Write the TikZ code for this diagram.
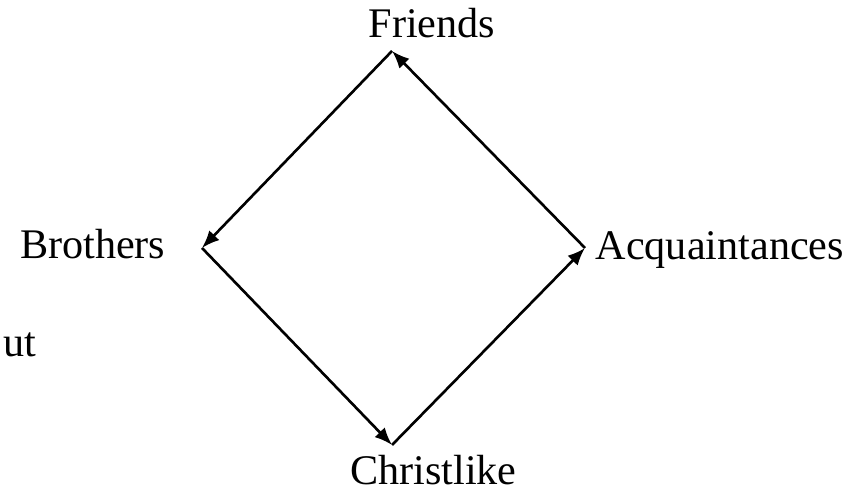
\documentclass[tikz,border=0pt]{standalone}
\usepackage{fontspec}
\setmainfont{Liberation Serif}
\usetikzlibrary{arrows.meta}

\begin{document}
\begin{tikzpicture}[
    lbl/.style={inner sep=0pt, font=\fontsize{12}{14}\selectfont},
    link/.style={line width=0.75pt, -{Latex[length=5pt,width=4pt]}}
  ]
	\useasboundingbox (0,0) rectangle (8.64,4.95);

	% corners of the diamond
	\coordinate (top) at (3.92,4.44);
	\coordinate (lft) at (2.02,2.47);
	\coordinate (bot) at (3.92,0.50);
	\coordinate (rgt) at (5.85,2.47);

	\node[lbl, anchor=base] (friends) at (4.32,4.57) {Friends};
	\node[lbl, anchor=base east] (brothers) at (1.66,2.36) {Brothers};
	\node[lbl, anchor=base west] (acq) at (5.95,2.35) {Acquaintances};
	\node[lbl, anchor=base] (christ) at (4.335,0.10) {Christlike};
	\node[lbl, anchor=base east] (ut) at (0.37,1.38) {ut};

	\draw[link] (top) -- (lft);
	\draw[link] (lft) -- (bot);
	\draw[link] (bot) -- (rgt);
	\draw[link] (rgt) -- (top);
\end{tikzpicture}
\end{document}
